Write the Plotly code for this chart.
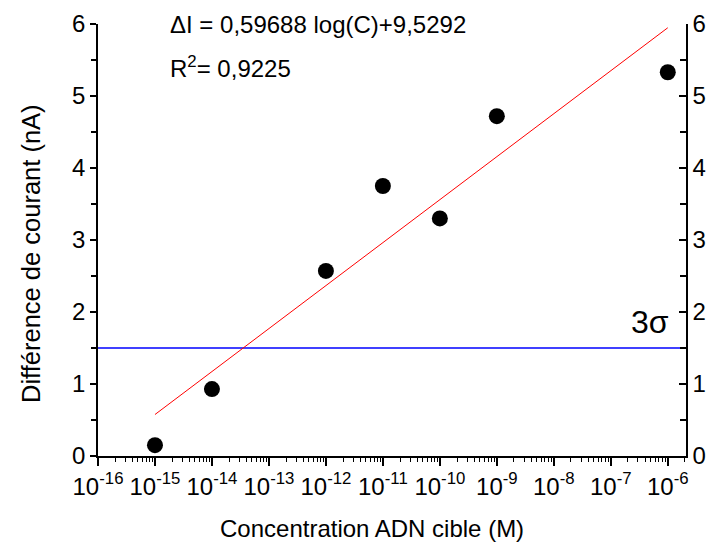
import plotly.graph_objects as go
import numpy as np

conc = [1e-15, 1e-14, 1e-12, 1e-11, 1e-10, 1e-9, 1e-6]
delta_i = [0.15, 0.93, 2.57, 3.75, 3.30, 4.72, 5.33]
slope = 0.59688
intercept = 9.5292
fit_x = [1e-15, 1e-6]
three_sigma = 1.5
x_tickvals = [10.0 ** k for k in range(-16, -5)]
x_ticktext = ["10<sup>-%d</sup>" % k for k in range(16, 5, -1)]
y_ticks = [0, 1, 2, 3, 4, 5, 6]
x_log_range = [-16, -5.68]

fit_y = [slope * np.log10(v) + intercept for v in fit_x]
minor_vals = [m * 10.0 ** k for k in range(-16, -5) for m in range(2, 10)]

font = "Liberation Sans, Arial, sans-serif"
FS = 24
L, R, T, B = 98, 686, 24, 456


def px(x):
    return (x - L) / (R - L)


def py(y):
    return (B - y) / (B - T)


fig = go.Figure()
fig.add_trace(go.Scatter(x=[10 ** x_log_range[0], 10 ** x_log_range[1]], y=[three_sigma, three_sigma],
                         mode="lines", line=dict(color="#0000ff", width=1.5), showlegend=False))
fig.add_trace(go.Scatter(x=fit_x, y=fit_y, mode="lines",
                         line=dict(color="#ff0000", width=1), showlegend=False))
fig.add_trace(go.Scatter(x=conc, y=delta_i, mode="markers",
                         marker=dict(color="black", size=16), showlegend=False))
fig.add_trace(go.Scatter(x=[1e-16], y=[0], yaxis="y2", mode="markers",
                         marker=dict(opacity=0), showlegend=False, hoverinfo="skip"))

axis_common = dict(showgrid=False, zeroline=False, showline=True, linecolor="black",
                   linewidth=1.5, tickcolor="black", tickwidth=1.5,
                   tickfont=dict(family=font, size=FS, color="black"))

fig.update_layout(
    width=712, height=547,
    margin=dict(l=L, r=712 - R, t=T, b=547 - B, autoexpand=False),
    plot_bgcolor="white", paper_bgcolor="white",
    font=dict(family=font, color="black", size=FS),
    xaxis=dict(type="log", range=x_log_range, tickvals=x_tickvals, ticktext=x_ticktext,
               ticks="outside", ticklen=8,
               minor=dict(tickvals=minor_vals, ticks="outside", ticklen=4,
                          tickcolor="black", tickwidth=1),
               **axis_common),
    yaxis=dict(range=[0, 6], tickvals=y_ticks, ticks="outside", ticklen=6,
               minor=dict(dtick=0.5, ticks="outside", ticklen=5, tickcolor="black", tickwidth=1.5),
               **axis_common),
    yaxis2=dict(range=[0, 6], tickvals=y_ticks, ticks="inside", ticklen=7,
                overlaying="y", side="right",
                minor=dict(dtick=0.5, ticks="inside", ticklen=6, tickcolor="black", tickwidth=1.5),
                **axis_common),
)
fig.update_yaxes(ticklabelstandoff=0, selector=dict(side="right"))
fig.add_annotation(text="Concentration ADN cible (M)", xref="paper", yref="paper",
                   x=px(372), y=py(528), showarrow=False, font=dict(family=font, size=FS),
                   xanchor="center", yanchor="middle")
fig.add_annotation(text="Différence de courant (nA)", xref="paper", yref="paper",
                   x=px(31), y=py(254), showarrow=False, textangle=-90,
                   font=dict(family=font, size=25.5), xanchor="center", yanchor="middle")
fig.add_annotation(text="ΔI = 0,59688 log(C)+9,5292", xref="x", yref="y", x=-14.77, y=5.99,
                   showarrow=False, font=dict(family=font, size=FS), xanchor="left", yanchor="middle")
fig.add_annotation(text="R<sup>2</sup>= 0,9225", xref="x", yref="y", x=-14.77, y=5.40,
                   showarrow=False, font=dict(family=font, size=FS), xanchor="left", yanchor="middle")
fig.add_annotation(text="3σ", xref="x", yref="y", x=-6.32, y=1.86,
                   showarrow=False, font=dict(family=font, size=32), xanchor="center", yanchor="middle")

fig.write_html("out.html", config={"displayModeBar": False},
               post_script="document.body.style.margin='0';")
